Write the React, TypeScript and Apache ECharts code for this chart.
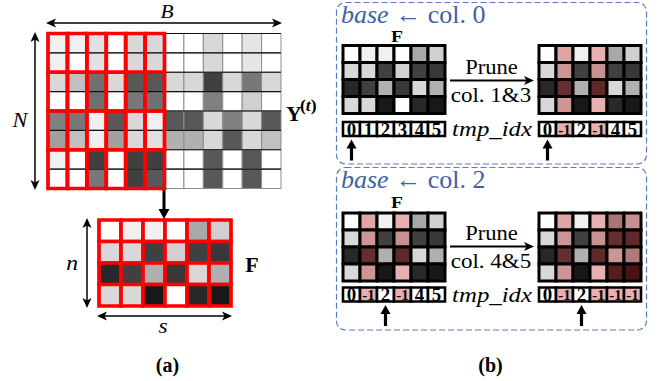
import React, { useEffect, useRef } from "react";
import * as echarts from "echarts";

const SERIF = "Liberation Serif";

// Y^(t): 8 rows x 12 columns, grey level per cell (0 = black, 255 = white)
const yRows: number[][] = [
  [240, 240, 225, 255, 216, 216, 255, 255, 216, 255, 230, 255],
  [240, 255, 225, 255, 216, 216, 255, 255, 216, 255, 230, 255],
  [216, 192, 112, 216, 88, 88, 216, 216, 64, 216, 120, 216],
  [255, 255, 112, 255, 120, 112, 255, 255, 128, 255, 208, 255],
  [128, 120, 240, 88, 216, 240, 88, 88, 216, 128, 216, 88],
  [160, 192, 240, 160, 216, 224, 176, 176, 216, 88, 216, 192],
  [240, 255, 64, 255, 64, 64, 255, 255, 88, 255, 88, 255],
  [255, 255, 120, 255, 64, 88, 255, 255, 88, 255, 88, 255],
];
// number of leading columns of Y^(t) that form the selected block
const selectedCols = 6;
// rows are pooled in pairs inside the selected block
const pooledRows = 2;

// F: 4 rows x 6 columns
const fRows: number[][] = [
  [255, 240, 240, 255, 168, 208],
  [216, 216, 64, 208, 64, 56],
  [40, 64, 176, 56, 216, 176],
  [216, 216, 24, 255, 40, 24],
];

const baseColumns = [0, 2];
const baseLabels = ["col. 0", "col. 2"];
const pruneLabels = ["col. 1&3", "col. 4&5"];
const prunedBefore: number[][] = [[], [1, 3]];
const prunedAfter: number[][] = [[1, 3], [1, 3, 4, 5]];
const tmpIdxBefore: number[][] = [
  [0, 1, 2, 3, 4, 5],
  [0, -1, 2, -1, 4, 5],
];
const tmpIdxAfter: number[][] = [
  [0, -1, 2, -1, 4, 5],
  [0, -1, 2, -1, -1, -1],
];

const grey = (g: number) => `rgb(${g},${g},${g})`;
// reddish overlay used for pruned columns
const tint = (g: number) => {
  const r = Math.round(g * 0.683 + 57.7);
  const o = Math.round(g * 0.683 + 1.9);
  return `rgb(${r},${o},${o})`;
};

type Box = { left: number; top: number; width: number; height: number; cols: number; rows: number };
type FontSpec = { size: number; italic?: boolean; bold?: boolean; sx?: number };

const fontProps = (f: FontSpec) => ({
  fontSize: f.size,
  fontFamily: SERIF,
  fontStyle: f.italic ? "italic" : "normal",
  fontWeight: f.bold ? "bold" : "normal",
});

const arrowHead = (tx: number, ty: number, dx: number, dy: number, len: number, half: number, notch = 0.25) => {
  const bx = tx - dx * len;
  const by = ty - dy * len;
  const px = -dy;
  const py = dx;
  return {
    type: "polygon",
    shape: {
      points: [
        [tx, ty],
        [bx + px * half, by + py * half],
        [tx - dx * len * (1 - notch), ty - dy * len * (1 - notch)],
        [bx - px * half, by - py * half],
      ],
    },
    style: { fill: "#000" },
  };
};

const arrow = (x1: number, y1: number, x2: number, y2: number, lw: number, len: number, half: number, both: boolean, notch = 0.25) => {
  const L = Math.hypot(x2 - x1, y2 - y1);
  const dx = (x2 - x1) / L;
  const dy = (y2 - y1) / L;
  const inset = len * (1 - notch) * 0.9;
  const sx = both ? x1 + dx * inset : x1;
  const sy = both ? y1 + dy * inset : y1;
  const ex = x2 - dx * inset;
  const ey = y2 - dy * inset;
  const els: any[] = [
    { type: "line", shape: { x1: sx, y1: sy, x2: ex, y2: ey }, style: { stroke: "#000", lineWidth: lw } },
    arrowHead(x2, y2, dx, dy, len, half, notch),
  ];
  if (both) els.push(arrowHead(x1, y1, -dx, -dy, len, half, notch));
  return els;
};

// text placed at (x, y), optionally stretched horizontally around that point
const text = (t: string, x: number, y: number, f: FontSpec, fill = "#000", align = "center") => ({
  type: "text",
  x,
  y,
  scaleX: f.sx ?? 1,
  style: {
    text: t,
    x: 0,
    y: 0,
    ...fontProps(f),
    fill,
    align,
    verticalAlign: "middle",
  },
});

function buildOption() {
  const grids: Box[] = [];
  const series: any[] = [];

  const addGrid = (b: Box) => {
    grids.push(b);
    return grids.length - 1;
  };

  const cellRender = (stroke: string, lw: number, pruned: number[], tinted: boolean) => (_p: any, api: any) => {
    const c = api.value(0);
    const r = api.value(1);
    const g = api.value(2);
    const p0 = api.coord([c, r]);
    const p1 = api.coord([c + 1, r + 1]);
    return {
      type: "rect",
      shape: { x: p0[0], y: p0[1], width: p1[0] - p0[0], height: p1[1] - p0[1] },
      style: { fill: tinted && pruned.includes(c) ? tint(g) : grey(g), stroke, lineWidth: lw },
    };
  };

  const matrixData = (rows: number[][]) => {
    const d: number[][] = [];
    rows.forEach((row, r) => row.forEach((g, c) => d.push([c, r, g])));
    return d;
  };

  // ---- (a) Y^(t) ----
  const gy = addGrid({ left: 48, top: 33.5, width: 233, height: 155, cols: yRows[0].length, rows: yRows.length });
  series.push({
    type: "custom",
    xAxisIndex: gy,
    yAxisIndex: gy,
    clip: false,
    data: matrixData(yRows),
    renderItem: cellRender("#8c8c8c", 1, [], false),
  });
  series.push({
    type: "custom",
    xAxisIndex: gy,
    yAxisIndex: gy,
    clip: false,
    data: yRows.map((_, r) => [0, r]),
    renderItem: (_p: any, api: any) => {
      const r = api.value(1);
      const a = api.coord([0, r]);
      const b = api.coord([yRows[0].length, r]);
      return { type: "line", shape: { x1: a[0], y1: a[1], x2: b[0], y2: b[1] }, style: { stroke: "#111", lineWidth: 1.2 } };
    },
  });
  const blocks: number[][] = [];
  for (let c = 0; c < selectedCols; c++)
    for (let r = 0; r < yRows.length; r += pooledRows) blocks.push([c, r]);
  series.push({
    type: "custom",
    xAxisIndex: gy,
    yAxisIndex: gy,
    clip: false,
    data: blocks,
    renderItem: (_p: any, api: any) => {
      const c = api.value(0);
      const r = api.value(1);
      const p0 = api.coord([c, r]);
      const p1 = api.coord([c + 1, r + pooledRows]);
      return {
        type: "rect",
        shape: { x: p0[0], y: p0[1], width: p1[0] - p0[0], height: p1[1] - p0[1] },
        style: { fill: "none", stroke: "#ff0000", lineWidth: 3.7 },
      };
    },
  });

  // ---- (a) F ----
  const gf = addGrid({ left: 99, top: 220, width: 132, height: 86, cols: fRows[0].length, rows: fRows.length });
  series.push({
    type: "custom",
    xAxisIndex: gf,
    yAxisIndex: gf,
    clip: false,
    data: matrixData(fRows),
    renderItem: cellRender("#ff0000", 3.7, [], false),
  });

  // ---- (b) pruning steps ----
  const stepTops = [45.5, 213];
  const tmpTops = [122, 287.5];
  const colLefts = [343, 539];
  stepTops.forEach((top, s) => {
    [0, 1].forEach((side) => {
      const pruned = side === 0 ? prunedBefore[s] : prunedAfter[s];
      const idx = side === 0 ? tmpIdxBefore[s] : tmpIdxAfter[s];
      const gm = addGrid({ left: colLefts[side], top, width: 102, height: 68, cols: fRows[0].length, rows: fRows.length });
      series.push({
        type: "custom",
        xAxisIndex: gm,
        yAxisIndex: gm,
        clip: false,
        data: matrixData(fRows),
        renderItem: cellRender("#000", 3, pruned, true),
      });
      const gt = addGrid({ left: colLefts[side], top: tmpTops[s], width: 102, height: 14, cols: idx.length, rows: 1 });
      series.push({
        type: "custom",
        xAxisIndex: gt,
        yAxisIndex: gt,
        clip: false,
        data: idx.map((v, c) => [c, 0, v]),
        renderItem: (_p: any, api: any) => {
          const c = api.value(0);
          const v = api.value(2);
          const p0 = api.coord([c, 0]);
          const p1 = api.coord([c + 1, 1]);
          const cx = (p0[0] + p1[0]) / 2;
          const cy = (p0[1] + p1[1]) / 2;
          const children: any[] = [
            {
              type: "rect",
              shape: { x: p0[0], y: p0[1], width: p1[0] - p0[0], height: p1[1] - p0[1] },
              style: { fill: v < 0 ? tint(255) : "#fff", stroke: "#000", lineWidth: 2.6 },
            },
            {
              type: "text",
              x: cx,
              y: cy + 0.8,
              scaleX: v < 0 ? 1 : 1.05,
              style: {
                text: String(v),
                x: 0,
                y: 0,
                ...fontProps({ size: v < 0 ? 15 : 18, bold: true }),
                fill: "#000",
                align: "center",
                verticalAlign: "middle",
              },
            },
          ];
          if (c === baseColumns[s]) {
            const tipY = p1[1] + 3.5;
            children.push({
              type: "polygon",
              shape: {
                points: [
                  [cx, tipY],
                  [cx + 5, tipY + 9],
                  [cx + 1.6, tipY + 9],
                  [cx + 1.6, tipY + 21],
                  [cx - 1.6, tipY + 21],
                  [cx - 1.6, tipY + 9],
                  [cx - 5, tipY + 9],
                ],
              },
              style: { fill: "#000" },
            });
          }
          return { type: "group", children };
        },
      });
    });
  });

  const graphics: any[] = [];
  // dashed panels
  [[336.5, 2.5, 310, 161.5], [336.5, 167.5, 310, 162.5]].forEach(([x, y, w, h]) =>
    graphics.push({
      type: "rect",
      shape: { x, y, width: w, height: h, r: 9 },
      style: { fill: "none", stroke: "#5b7bbd", lineWidth: 1.2, lineDash: [6, 3] },
    })
  );

  // (a) annotations
  graphics.push(...arrow(46, 23, 282, 23, 1.5, 10, 4.5, true));
  graphics.push(...arrow(35, 32, 35, 190, 1.5, 10, 4.5, true));
  graphics.push(...arrow(87, 218, 87, 308, 1.5, 10, 4.5, true));
  graphics.push(...arrow(97, 316, 232, 316, 1.5, 10, 4.5, true));
  graphics.push(...arrow(164, 188, 164, 219, 3, 10, 5.5, false, 0));
  graphics.push(text("B", 167, 11.5, { size: 19, italic: true, sx: 1.12 }));
  graphics.push(text("N", 20, 120, { size: 20, italic: true, sx: 1.12 }));
  graphics.push(text("n", 72, 263, { size: 21, italic: true, sx: 1.12 }));
  graphics.push(text("s", 163, 326, { size: 21, italic: true, sx: 1.12 }));
  graphics.push(text("F", 252, 265, { size: 20, bold: true, sx: 1.1 }));
  graphics.push(text("Y", 286, 114, { size: 20, bold: true, sx: 1.1 }, "#000", "left"));
  graphics.push({
    type: "text",
    x: 300,
    y: 106,
    scaleX: 1.1,
    style: {
      text: "{p|(}{t|t}{p|)}",
      x: 0,
      y: 0,
      align: "left",
      verticalAlign: "middle",
      rich: {
        p: { ...fontProps({ size: 16, bold: true }), fill: "#000" },
        t: { ...fontProps({ size: 16, bold: true, italic: true }), fill: "#000" },
      },
    },
  });
  graphics.push(text("(a)", 167.5, 365, { size: 20, bold: true }));

  // (b) annotations
  const dy = [0, 166];
  [0, 1].forEach((s) => {
    graphics.push({
      type: "text",
      x: 341,
      y: 15 + (s === 0 ? 0 : 165),
      scaleX: 1.04,
      style: {
        text: `{i|base}{n| ← ${baseLabels[s]}}`,
        x: 0,
        y: 0,
        align: "left",
        verticalAlign: "middle",
        rich: {
          i: { ...fontProps({ size: 25, italic: true }), fill: "#3f62a6" },
          n: { ...fontProps({ size: 25 }), fill: "#3f62a6" },
        },
      },
    });
    graphics.push(text("F", 397, s === 0 ? 36.5 : 202, { size: 17, bold: true, sx: 1.15 }));
    graphics.push(text("Prune", 491.5, 67.5 + dy[s], { size: 20, sx: 1.13 }));
    graphics.push(text(pruneLabels[s], 491, 96 + dy[s], { size: 20, sx: 1.15 }));
    graphics.push(text("tmp_idx", 492, 129 + dy[s], { size: 21, italic: true, sx: 1.18 }));
    graphics.push(...arrow(450, 80.5 + dy[s], 534, 80.5 + dy[s], 1.8, 10, 4.5, false));
  });
  graphics.push(text("(b)", 490.5, 365, { size: 20, bold: true }));

  return {
    animation: false,
    backgroundColor: "#fff",
    grid: grids.map((g) => ({ left: g.left, top: g.top, width: g.width, height: g.height, show: false })),
    xAxis: grids.map((g, i) => ({ gridIndex: i, type: "value", min: 0, max: g.cols, show: false })),
    yAxis: grids.map((g, i) => ({ gridIndex: i, type: "value", min: 0, max: g.rows, inverse: true, show: false })),
    series,
    graphic: { elements: graphics },
  };
}

export default function App() {
  const ref = useRef<HTMLDivElement>(null);
  useEffect(() => {
    if (!ref.current) return;
    const chart = echarts.init(ref.current, undefined, { renderer: "svg" });
    chart.setOption(buildOption() as any);
    return () => chart.dispose();
  }, []);
  return (
    <div
      ref={ref}
      style={{ position: "fixed", left: 0, top: 0, width: 667, height: 381, background: "#fff" }}
    />
  );
}
